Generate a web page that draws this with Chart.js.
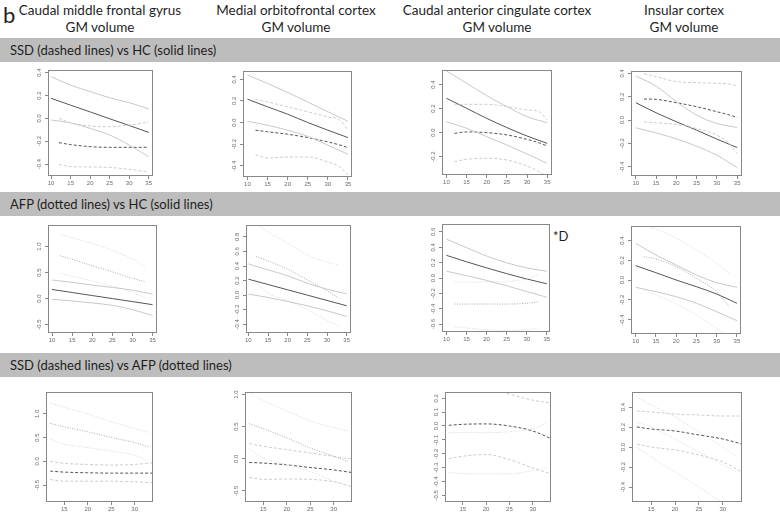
<!DOCTYPE html>
<html>
<head>
<meta charset="utf-8">
<script src="https://cdn.jsdelivr.net/npm/chart.js@4.4.0/dist/chart.umd.min.js"></script>
<style>
html, body { margin: 0; padding: 0; background: #fff; }
#page { position: relative; width: 780px; height: 514px; overflow: hidden; font-family: Lato, "Open Sans", sans-serif; color: #1f1f1f; }
.title { position: absolute; top: 2px; width: 220px; text-align: center; font-size: 13.5px; line-height: 17px; }
.band { position: absolute; left: 0; width: 780px; height: 24px; background: #bdbdbd; }
.band span { position: absolute; left: 10px; top: 4px; font-size: 13px; }
canvas { position: absolute; }
</style>
</head>
<body>
<div id="page"></div>
<script>
// text
var regions = ['Caudal middle frontal gyrus', 'Medial orbitofrontal cortex', 'Caudal anterior cingulate cortex', 'Insular cortex'];
var measure = 'GM volume';
var comparisons = ['SSD (dashed lines) vs HC (solid lines)', 'AFP (dotted lines) vs HC (solid lines)', 'SSD (dashed lines) vs AFP (dotted lines)'];

// ages (x)
var ageHc = [10, 15, 20, 25, 30, 35];
var ageSsd = [12, 15, 20, 25, 30, 33, 35];
var ageAfp = [12, 15, 20, 25, 30, 33];
var ageSsd3 = [12, 15, 20, 25, 30, 34];
var ageTicks = [10, 15, 20, 25, 30, 35];
var ageTicks3 = [15, 20, 25, 30];

// row 1 : SSD vs HC
var cmfHc = [0.175, 0.115, 0.056, -0.004, -0.063, -0.123];
var cmfHcHi = [0.365, 0.29, 0.234, 0.18, 0.137, 0.082];
var cmfHcLo = [-0.015, -0.04, -0.088, -0.146, -0.234, -0.336];
var cmfSsd = [-0.213, -0.23, -0.248, -0.254, -0.254, -0.254, -0.254];
var cmfSsdHi = [0.0, -0.04, -0.067, -0.073, -0.058, -0.045, -0.03];
var cmfSsdLo = [-0.403, -0.423, -0.426, -0.43, -0.447, -0.46, -0.473];

var mofHc = [0.216, 0.145, 0.077, 0.0, -0.071, -0.139];
var mofHcHi = [0.439, 0.361, 0.278, 0.19, 0.099, 0.012];
var mofHcLo = [0.012, -0.025, -0.071, -0.127, -0.21, -0.293];
var mofSsd = [-0.071, -0.085, -0.108, -0.139, -0.179, -0.208, -0.232];
var mofSsdHi = [0.213, 0.19, 0.145, 0.099, 0.053, 0.022, -0.071];
var mofSsdLo = [-0.297, -0.327, -0.318, -0.318, -0.365, -0.41, -0.488];

var cacHc = [0.286, 0.203, 0.119, 0.042, -0.028, -0.089];
var cacHcHi = [0.514, 0.411, 0.308, 0.217, 0.133, 0.083];
var cacHcLo = [0.092, 0.036, -0.033, -0.103, -0.178, -0.256];
var cacSsd = [-0.006, 0.006, 0.0, -0.019, -0.056, -0.085, -0.111];
var cacSsdHi = [0.231, 0.236, 0.236, 0.217, 0.189, 0.175, 0.106];
var cacSsdLo = [-0.242, -0.222, -0.214, -0.228, -0.278, -0.325, -0.367];

var insHc = [0.149, 0.063, -0.014, -0.086, -0.163, -0.235];
var insHcHi = [0.378, 0.292, 0.158, 0.043, -0.029, -0.063];
var insHcLo = [-0.066, -0.109, -0.161, -0.224, -0.301, -0.407];
var insSsd = [0.181, 0.178, 0.149, 0.115, 0.072, 0.045, 0.023];
var insSsdHi = [0.396, 0.373, 0.33, 0.321, 0.315, 0.31, 0.292];
var insSsdLo = [-0.014, -0.023, -0.037, -0.072, -0.129, -0.2, -0.287];

// row 2 : AFP vs HC
var cmf2Hc = [0.175, 0.117, 0.058, 0.0, -0.058, -0.117];
var cmf2HcHi = [0.357, 0.312, 0.26, 0.214, 0.162, 0.084];
var cmf2HcLo = [-0.013, -0.045, -0.084, -0.13, -0.214, -0.325];
var cmfAfp = [0.825, 0.753, 0.63, 0.513, 0.39, 0.325];
var cmfAfpHi = [1.234, 1.17, 1.06, 0.93, 0.76, 0.617];
var cmfAfpLo = [0.487, 0.43, 0.34, 0.24, 0.12, 0.019];

var mof2Hc = [0.219, 0.146, 0.073, 0.0, -0.073, -0.146];
var mof2HcHi = [0.429, 0.347, 0.265, 0.164, 0.082, 0.018];
var mof2HcLo = [0.014, -0.032, -0.087, -0.146, -0.215, -0.292];
var mofAfp = [0.53, 0.47, 0.356, 0.21, 0.059, -0.041];
var mofAfpHi = [0.98, 0.872, 0.712, 0.552, 0.452, 0.415];
var mofAfpLo = [0.164, 0.03, -0.078, -0.2, -0.347, -0.429];

var cac2Hc = [0.295, 0.211, 0.132, 0.057, -0.013, -0.075];
var cac2HcHi = [0.506, 0.396, 0.286, 0.198, 0.132, 0.088];
var cac2HcLo = [0.088, 0.031, -0.031, -0.101, -0.176, -0.251];
var cacAfp = [-0.339, -0.339, -0.339, -0.339, -0.33, -0.308];
var cacAfpHi = [-0.053, -0.053, -0.053, -0.044, -0.013, 0.044];
var cacAfpLo = [-0.637, -0.65, -0.673, -0.681, -0.673, -0.65];

var ins2Hc = [0.145, 0.074, 0.0, -0.068, -0.142, -0.236];
var ins2HcHi = [0.371, 0.253, 0.152, 0.05, -0.027, -0.074];
var ins2HcLo = [-0.074, -0.118, -0.169, -0.236, -0.321, -0.412];
var insAfp = [0.236, 0.213, 0.135, 0.017, -0.118, -0.263];
var insAfpHi = [0.557, 0.517, 0.422, 0.304, 0.169, 0.068];
var insAfpLo = [-0.101, -0.152, -0.243, -0.354, -0.49, -0.574];

// row 3 : SSD vs AFP
var cmf3Afp = [0.799, 0.728, 0.622, 0.502, 0.396, 0.304];
var cmf3AfpHi = [1.23, 1.138, 0.997, 0.834, 0.693, 0.608];
var cmf3AfpLo = [0.467, 0.36, 0.29, 0.219, 0.127, 0.007];
var cmf3Ssd = [-0.205, -0.226, -0.24, -0.247, -0.247, -0.247];
var cmf3SsdHi = [0.0, -0.042, -0.064, -0.078, -0.064, -0.028];
var cmf3SsdLo = [-0.382, -0.417, -0.417, -0.417, -0.431, -0.452];

var mof3Afp = [0.547, 0.468, 0.326, 0.168, 0.037, -0.042];
var mof3AfpHi = [1.03, 0.905, 0.747, 0.589, 0.484, 0.432];
var mof3AfpLo = [0.153, 0.011, -0.09, -0.2, -0.35, -0.41];
var mof3Ssd = [-0.058, -0.068, -0.095, -0.137, -0.174, -0.216];
var mof3SsdHi = [0.237, 0.195, 0.142, 0.089, 0.037, -0.005];
var mof3SsdLo = [-0.289, -0.321, -0.316, -0.321, -0.358, -0.437];

var cac3Afp = [-0.048, -0.048, -0.048, -0.041, -0.019, 0.02];
var cac3AfpLo = [-0.334, -0.344, -0.344, -0.344, -0.322, -0.303];
var cac3Ssd = [0.005, 0.012, 0.015, 0.0, -0.036, -0.092];
var cac3SsdHi = [0.34, 0.32, 0.28, 0.23, 0.186, 0.165];
var cac3SsdLo = [-0.237, -0.218, -0.206, -0.242, -0.303, -0.346];

var ins3Afp = [0.25, 0.2, 0.08, -0.05, -0.18, -0.25];
var ins3AfpHi = [0.5, 0.42, 0.3, 0.15, 0.0, -0.1];
var ins3AfpLo = [0.0, -0.1, -0.25, -0.4, -0.55, -0.6];
var ins3Ssd = [0.2, 0.18, 0.16, 0.12, 0.08, 0.03];
var ins3SsdHi = [0.36, 0.35, 0.33, 0.32, 0.31, 0.31];
var ins3SsdLo = [0.03, 0.0, -0.03, -0.08, -0.15, -0.25];

// y tick labels
var ticks4 = [-0.4, -0.2, 0.0, 0.2, 0.4];
var ticksCac1 = [-0.2, 0.0, 0.2, 0.4];
var ticksHalf = [-0.5, 0.0, 0.5, 1.0];
var ticksMof2 = [-0.4, -0.2, 0.0, 0.2, 0.4, 0.6, 0.8];
var ticksCac2 = [-0.6, -0.4, -0.2, 0.0, 0.2, 0.4, 0.6];
var ticksCac3 = [-0.5, -0.4, -0.3, -0.2, -0.1, 0.0, 0.1, 0.2];

var styles = {
    hc:    { color: '#555555', width: 1, dash: [] },
    hcCi:  { color: '#c8c8c8', width: 1, dash: [] },
    ssd:   { color: '#555555', width: 1, dash: [3, 2] },
    ssdCi: { color: '#cccccc', width: 1, dash: [3, 2] },
    afp:   { color: '#a8a8a8', width: 1, dash: [1, 1.5] },
    afpCi: { color: '#d8d8d8', width: 1, dash: [1, 1.5] }
};

// panel boxes: [left, top, right, bottom] of the plot frame
var panels = [
    { box: [48, 70, 153, 176], x: [9.2, 36.1], y: [-0.505, 0.423], xt: ageTicks, yt: ticks4,
      lines: [[ageHc, cmfHcHi, 'hcCi'], [ageHc, cmfHcLo, 'hcCi'], [ageSsd, cmfSsdHi, 'ssdCi'], [ageSsd, cmfSsdLo, 'ssdCi'], [ageSsd, cmfSsd, 'ssd'], [ageHc, cmfHc, 'hc']] },
    { box: [243, 71, 352, 177], x: [8.9, 36.0], y: [-0.503, 0.476], xt: ageTicks, yt: ticks4,
      lines: [[ageHc, mofHcHi, 'hcCi'], [ageHc, mofHcLo, 'hcCi'], [ageSsd, mofSsdHi, 'ssdCi'], [ageSsd, mofSsdLo, 'ssdCi'], [ageSsd, mofSsd, 'ssd'], [ageHc, mofHc, 'hc']] },
    { box: [442, 70, 552, 175], x: [8.9, 36.2], y: [-0.353, 0.522], xt: ageTicks, yt: ticksCac1,
      lines: [[ageHc, cacHcHi, 'hcCi'], [ageHc, cacHcLo, 'hcCi'], [ageSsd, cacSsdHi, 'ssdCi'], [ageSsd, cacSsdLo, 'ssdCi'], [ageSsd, cacSsd, 'ssd'], [ageHc, cacHc, 'hc']] },
    { box: [631, 71, 742, 176], x: [8.8, 36.2], y: [-0.479, 0.421], xt: ageTicks, yt: ticks4,
      lines: [[ageHc, insHcHi, 'hcCi'], [ageHc, insHcLo, 'hcCi'], [ageSsd, insSsdHi, 'ssdCi'], [ageSsd, insSsdLo, 'ssdCi'], [ageSsd, insSsd, 'ssd'], [ageHc, insHc, 'hc']] },

    { box: [48, 225, 157, 333], x: [9.0, 36.1], y: [-0.662, 1.415], xt: ageTicks, yt: ticksHalf,
      lines: [[ageHc, cmf2HcHi, 'hcCi'], [ageHc, cmf2HcLo, 'hcCi'], [ageAfp, cmfAfpHi, 'afpCi'], [ageAfp, cmfAfpLo, 'afpCi'], [ageAfp, cmfAfp, 'afp'], [ageHc, cmf2Hc, 'hc']] },
    { box: [246, 225, 351, 333], x: [9.4, 36.1], y: [-0.52, 0.963], xt: ageTicks, yt: ticksMof2,
      lines: [[ageHc, mof2HcHi, 'hcCi'], [ageHc, mof2HcLo, 'hcCi'], [ageAfp, mofAfpHi, 'afpCi'], [ageAfp, mofAfpLo, 'afpCi'], [ageAfp, mofAfp, 'afp'], [ageHc, mof2Hc, 'hc']] },
    { box: [442, 224, 550, 332], x: [8.9, 35.8], y: [-0.703, 0.703], xt: ageTicks, yt: ticksCac2,
      lines: [[ageHc, cac2HcHi, 'hcCi'], [ageHc, cac2HcLo, 'hcCi'], [ageAfp, cacAfpHi, 'afpCi'], [ageAfp, cacAfpLo, 'afpCi'], [ageAfp, cacAfp, 'afp'], [ageHc, cac2Hc, 'hc']] },
    { box: [631, 226, 741, 334], x: [8.85, 36.0], y: [-0.547, 0.547], xt: ageTicks, yt: ticks4,
      lines: [[ageHc, ins2HcHi, 'hcCi'], [ageHc, ins2HcLo, 'hcCi'], [ageAfp, insAfpHi, 'afpCi'], [ageAfp, insAfpLo, 'afpCi'], [ageAfp, insAfp, 'afp'], [ageHc, ins2Hc, 'hc']] },

    { box: [46, 392, 153, 502], x: [11.1, 33.9], y: [-0.855, 1.46], xt: ageTicks3, yt: ticksHalf,
      lines: [[ageAfp, cmf3AfpHi, 'afpCi'], [ageAfp, cmf3AfpLo, 'afpCi'], [ageAfp, cmf3Afp, 'afp'], [ageSsd3, cmf3SsdHi, 'ssdCi'], [ageSsd3, cmf3SsdLo, 'ssdCi'], [ageSsd3, cmf3Ssd, 'ssd']] },
    { box: [245, 392, 352, 502], x: [11.1, 33.9], y: [-0.674, 1.04], xt: ageTicks3, yt: ticksHalf,
      lines: [[ageAfp, mof3AfpHi, 'afpCi'], [ageAfp, mof3AfpLo, 'afpCi'], [ageAfp, mof3Afp, 'afp'], [ageSsd3, mof3SsdHi, 'ssdCi'], [ageSsd3, mof3SsdLo, 'ssdCi'], [ageSsd3, mof3Ssd, 'ssd']] },
    { box: [445, 392, 551, 502], x: [11.2, 33.9], y: [-0.548, 0.245], xt: ageTicks3, yt: ticksCac3,
      lines: [[ageAfp, cac3AfpLo, 'afpCi'], [ageAfp, cac3Afp, 'afpCi'], [ageSsd3, cac3SsdHi, 'ssdCi'], [ageSsd3, cac3SsdLo, 'ssdCi'], [ageSsd3, cac3Ssd, 'ssd']] },
    { box: [632, 392, 742, 502], x: [11.0, 34.0], y: [-0.55, 0.55], xt: ageTicks3, yt: ticks4,
      lines: [[ageAfp, ins3AfpHi, 'afpCi'], [ageAfp, ins3AfpLo, 'afpCi'], [ageAfp, ins3Afp, 'afpCi'], [ageSsd3, ins3SsdHi, 'ssdCi'], [ageSsd3, ins3SsdLo, 'ssdCi'], [ageSsd3, ins3Ssd, 'ssd']] }
];

var page = document.getElementById('page');

function addDiv(cls, css, text) {
    var d = document.createElement('div');
    if (cls) d.className = cls;
    d.style.cssText = css;
    d.innerHTML = text;
    page.appendChild(d);
    return d;
}

addDiv('', 'position:absolute;left:3px;top:3px;font-size:22px;line-height:24px;', 'b');
var titleCenters = [100, 296, 497, 684];
regions.forEach(function (r, i) {
    addDiv('title', 'left:' + (titleCenters[i] - 110) + 'px;', r + '<br>' + measure);
});
var bandTops = [38, 192, 353];
comparisons.forEach(function (c, i) {
    addDiv('band', 'top:' + bandTops[i] + 'px;', '<span>' + c + '</span>');
});
addDiv('', 'position:absolute;left:553px;top:228px;font-size:13px;', '*D');

var frameBox = {
    id: 'frameBox',
    afterDraw: function (chart) {
        var a = chart.chartArea, ctx = chart.ctx;
        ctx.save();
        ctx.strokeStyle = '#888888';
        ctx.lineWidth = 1;
        ctx.strokeRect(Math.round(a.left) + 0.5, Math.round(a.top) + 0.5, Math.round(a.right - a.left) - 1, Math.round(a.bottom - a.top) - 1);
        ctx.restore();
    }
};

var PAD_L = 26, PAD_T = 10, PAD_R = 8, PAD_B = 16;

panels.forEach(function (p) {
    var cv = document.createElement('canvas');
    var w = p.box[2] - p.box[0] + PAD_L + PAD_R;
    var h = p.box[3] - p.box[1] + PAD_T + PAD_B;
    cv.width = w; cv.height = h;
    cv.style.left = (p.box[0] - PAD_L) + 'px';
    cv.style.top = (p.box[1] - PAD_T) + 'px';
    cv.style.width = w + 'px'; cv.style.height = h + 'px';
    page.appendChild(cv);

    var datasets = p.lines.map(function (l) {
        var s = styles[l[2]];
        return {
            data: l[0].map(function (a, i) { return { x: a, y: l[1][i] }; }),
            borderColor: s.color,
            borderWidth: s.width,
            borderDash: s.dash,
            pointRadius: 0,
            fill: false,
            cubicInterpolationMode: 'monotone'
        };
    });

    new Chart(cv, {
        type: 'line',
        data: { datasets: datasets },
        options: {
            responsive: false,
            animation: false,
            devicePixelRatio: 1,
            layout: { padding: { left: 0, top: PAD_T, right: PAD_R, bottom: 0 } },
            plugins: { legend: { display: false }, tooltip: { enabled: false } },
            scales: {
                x: {
                    type: 'linear', min: p.x[0], max: p.x[1],
                    afterBuildTicks: function (s) { s.ticks = p.xt.map(function (v) { return { value: v }; }); },
                    afterFit: function (s) { s.height = PAD_B; },
                    grid: { drawOnChartArea: false, drawTicks: true, tickLength: 3, tickColor: '#888888' },
                    border: { display: false },
                    ticks: { autoSkip: false, maxRotation: 0, padding: 1, color: '#6a6a6a', font: { size: 6, family: 'Liberation Sans' },
                             callback: function (v) { return String(v); } }
                },
                y: {
                    type: 'linear', min: p.y[0], max: p.y[1],
                    afterBuildTicks: function (s) { s.ticks = p.yt.map(function (v) { return { value: v }; }); },
                    afterFit: function (s) { s.width = PAD_L; },
                    grid: { drawOnChartArea: false, drawTicks: true, tickLength: 3, tickColor: '#888888' },
                    border: { display: false },
                    ticks: { autoSkip: false, minRotation: 90, maxRotation: 90, crossAlign: 'center', padding: 0,
                             color: '#6a6a6a', font: { size: 6, family: 'Liberation Sans' },
                             callback: function (v) { return Number(v).toFixed(1); } }
                }
            }
        },
        plugins: [frameBox]
    });
});
</script>
</body>
</html>
